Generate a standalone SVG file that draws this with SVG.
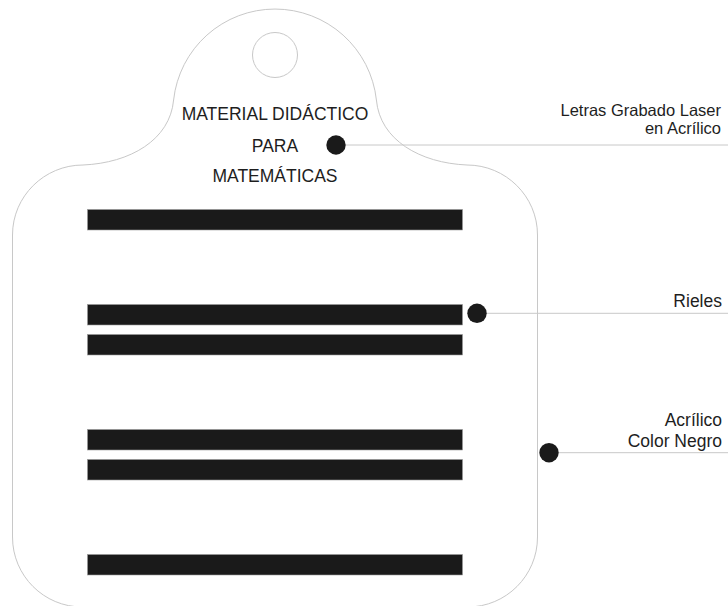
<svg xmlns="http://www.w3.org/2000/svg" width="728" height="606" viewBox="0 0 728 606">
  <style>
    .outline { fill: #ffffff; stroke: #c8c8c8; stroke-width: 1; }
    .rail { fill: #1a1a1a; stroke: #9a9a9a; stroke-width: 0.6; }
    .dot { fill: #1a1a1a; }
    .leader { stroke: #c8c8c8; stroke-width: 1; fill: none; }
    .t { font-family: "Liberation Sans", Arial, Helvetica, sans-serif; font-size: 17.5px; fill: #1e1e1e; }
    .s { font-size: 16.5px; }
    .mid { text-anchor: middle; }
    .end { text-anchor: end; }
  </style>
  <rect x="0" y="0" width="728" height="606" fill="#ffffff"/>

  <g id="tag">
    <path class="outline" d="M 173.6,100 A 102 102 0 0 1 376.4,100 C 380,140 420,163 467,165 C 505.7,165 537.5,196.3 537.5,235 L 537.5,537 C 537.5,575.7 506.2,607 467.5,607 L 82.5,607 C 43.8,607 12.5,575.7 12.5,537 L 12.5,235 C 12.5,196.3 44.3,165 83,165 C 130,163 170,140 173.6,100 Z"/>
    <circle id="hole" class="outline" cx="275" cy="55" r="22.5"/>
  </g>

  <g id="title">
    <text class="t mid" x="275" y="120">MATERIAL DIDÁCTICO</text>
    <text class="t mid" x="275" y="151.7">PARA</text>
    <text class="t mid" x="275" y="182.3">MATEMÁTICAS</text>
  </g>

  <g id="rails">
    <rect class="rail" x="87.5" y="209.5" width="375" height="20.5"/>
    <rect class="rail" x="87.5" y="304.5" width="375" height="20.5"/>
    <rect class="rail" x="87.5" y="334.5" width="375" height="20.5"/>
    <rect class="rail" x="87.5" y="429.5" width="375" height="20.5"/>
    <rect class="rail" x="87.5" y="459.5" width="375" height="20.5"/>
    <rect class="rail" x="87.5" y="554.5" width="375" height="20.5"/>
  </g>

  <g id="connectors">
    <line class="leader" x1="336" y1="145" x2="728" y2="145"/>
    <line class="leader" x1="477" y1="313.3" x2="728" y2="313.3"/>
    <line class="leader" x1="549" y1="452.7" x2="728" y2="452.7"/>
    <circle class="dot" cx="336" cy="145" r="9.7"/>
    <circle class="dot" cx="477" cy="313.3" r="9.7"/>
    <circle class="dot" cx="549" cy="452.7" r="9.7"/>
  </g>

  <g id="label-letras">
    <text class="t s end" x="721" y="115.8">Letras Grabado Laser</text>
    <text class="t s end" x="721" y="134.2">en Acrílico</text>
  </g>
  <g id="label-rieles">
    <text class="t end" x="722" y="306.7">Rieles</text>
  </g>
  <g id="label-acrilico">
    <text class="t end" x="722" y="426">Acrílico</text>
    <text class="t end" x="722" y="447.3">Color Negro</text>
  </g>
</svg>
